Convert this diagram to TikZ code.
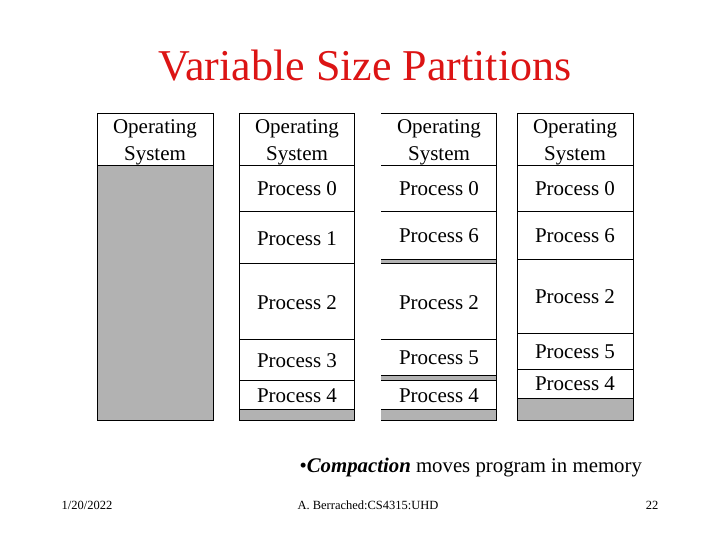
\documentclass[tikz,border=0pt]{standalone}
\usepackage{fontspec}
\setmainfont{Liberation Serif}
\definecolor{fillg}{RGB}{178,178,178}
\definecolor{titlered}{RGB}{220,20,20}
\begin{document}
\begin{tikzpicture}[x=1pt,y=-1pt,
  lbl/.style={font=\fontsize{21}{27}\selectfont,align=center},
  gr/.style={fill=fillg,draw=none},
  ln/.style={line width=0.8pt}]
\useasboundingbox (0,0) rectangle (720,540);
\node[text=titlered,font=\fontsize{44}{50}\selectfont] (title) at (365,66) {Variable Size Partitions};
% column 1
\fill[fillg] (97,165) rectangle (213,420);
\draw[ln] (97,113) rectangle (213,420) (97,165)--(213,165);
\node[lbl] (a0) at (155,142) {Operating\\System};
% column 2
\fill[fillg] (239,409) rectangle (354,420);
\draw[ln] (239,113) rectangle (354,420);
\foreach \y in {165,211,263,339,380,409} \draw[ln] (239,\y)--(354,\y);
\node[lbl] (b0) at (297,142) {Operating\\System};
\node[lbl] (b1) at (297,189) {Process 0};
\node[lbl] (b2) at (297,239) {Process 1};
\node[lbl] (b3) at (297,303) {Process 2};
\node[lbl] (b4) at (297,361) {Process 3};
\node[lbl] (b5) at (297,396) {Process 4};
% column 3
\fill[fillg] (381,259) rectangle (496,263);
\fill[fillg] (381,375) rectangle (496,380);
\fill[fillg] (381,409) rectangle (496,420);
\draw[ln] (496,113)--(496,420)--(381,420) (381,113)--(496,113);
\foreach \y in {165,211,259,263,339,375,380,409} \draw[ln] (381,\y)--(496,\y);
\node[lbl] (c0) at (439,142) {Operating\\System};
\node[lbl] (c1) at (439,189) {Process 0};
\node[lbl] (c2) at (439,236) {Process 6};
\node[lbl] (c3) at (439,303) {Process 2};
\node[lbl] (c4) at (439,358) {Process 5};
\node[lbl] (c5) at (439,396) {Process 4};
% column 4
\fill[fillg] (517,398) rectangle (633,420);
\draw[ln] (517,113) rectangle (633,420);
\foreach \y in {165,211,259,333,369,398} \draw[ln] (517,\y)--(633,\y);
\node[lbl] (d0) at (575,142) {Operating\\System};
\node[lbl] (d1) at (575,189) {Process 0};
\node[lbl] (d2) at (575,236) {Process 6};
\node[lbl] (d3) at (575,297) {Process 2};
\node[lbl] (d4) at (575,352) {Process 5};
\node[lbl] (d5) at (575,384) {Process 4};
% caption
\node[anchor=west,font=\fontsize{20.8}{22}\selectfont] (cap) at (296,468) {•\textbf{\textit{Compaction}} moves program in memory};
\node[font=\fontsize{12.5}{14}\selectfont] (f1) at (87,505) {1/20/2022};
\node[font=\fontsize{12.5}{14}\selectfont] (f2) at (368,505) {A. Berrached:CS4315:UHD};
\node[font=\fontsize{12.5}{14}\selectfont] (f3) at (652,505) {22};
\end{tikzpicture}
\end{document}
